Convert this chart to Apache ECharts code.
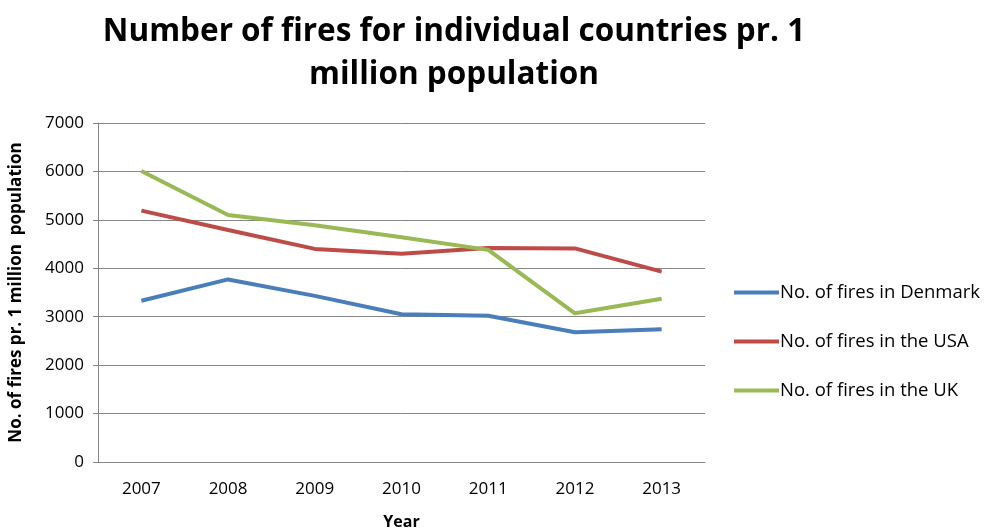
<!DOCTYPE html>
<html><head><meta charset="utf-8">
<script src="https://cdn.jsdelivr.net/npm/echarts@6/dist/echarts.min.js"></script>
<style>html,body{margin:0;padding:0;background:#fff}#c{width:985px;height:532px}</style>
</head><body><div id="c"></div>
<script>
const years = ['2007','2008','2009','2010','2011','2012','2013'];
const denmark = [3330, 3770, 3430, 3050, 3020, 2680, 2740];
const usa = [5190, 4790, 4400, 4300, 4420, 4410, 3930];
const uk = [6010, 5100, 4890, 4640, 4380, 3070, 3370];
const seriesNames = ['No. of fires in Denmark', 'No. of fires in the USA', 'No. of fires in the UK'];
const colors = ['#4a7ebb', '#be4b48', '#98b954'];

const font = '"Open Sans", Lato, sans-serif';
const chart = echarts.init(document.getElementById('c'), null, {renderer:'canvas'});
chart.setOption({
  animation: false,
  color: colors,
  title: {
    text: 'Number of fires for individual countries pr. 1\nmillion population',
    left: 449, top: 6, textAlign: 'center',
    textStyle: {fontFamily: font, fontWeight: 'bold', fontSize: 31.5, lineHeight: 43, color: '#000'}
  },
  legend: {
    orient: 'vertical', left: 729, top: 278, itemGap: 30,
    itemWidth: 45, itemHeight: 4, icon: 'rect',
    textStyle: {fontFamily: font, fontSize: 18.5, color: '#000', padding: [0,0,0,-4]},
    data: seriesNames
  },
  grid: {left: 98, right: 280, top: 123, bottom: 70, outerBoundsMode: 'none', containLabel: false},
  xAxis: {
    type: 'category', data: years, boundaryGap: true,
    name: 'Year', nameLocation: 'middle', nameGap: 52,
    nameTextStyle: {fontFamily: font, fontWeight: 'bold', fontSize: 16, color: '#000'},
    axisLine: {lineStyle: {color: '#868686', width: 1}},
    axisTick: {show: false},
    axisLabel: {fontFamily: font, fontSize: 17, color: '#000', margin: 19}
  },
  yAxis: {
    type: 'value', min: 0, max: 7000, interval: 1000,
    name: 'No. of fires pr. 1 million  population', nameLocation: 'middle', nameGap: 73,
    nameTextStyle: {fontFamily: font, fontWeight: 'bold', fontSize: 17, color: '#000'},
    axisLine: {show: true, lineStyle: {color: '#868686', width: 1}},
    axisTick: {show: true, length: 5, lineStyle: {color: '#868686'}},
    axisLabel: {fontFamily: font, fontSize: 17, color: '#000', margin: 14, formatter: function(v){ return String(v); }},
    splitLine: {lineStyle: {color: '#868686', width: 1}}
  },
  series: [
    {name: seriesNames[0], type: 'line', data: denmark, symbol: 'none', lineStyle: {width: 4}},
    {name: seriesNames[1], type: 'line', data: usa, symbol: 'none', lineStyle: {width: 4}},
    {name: seriesNames[2], type: 'line', data: uk, symbol: 'none', lineStyle: {width: 4}}
  ]
});
</script></body></html>
